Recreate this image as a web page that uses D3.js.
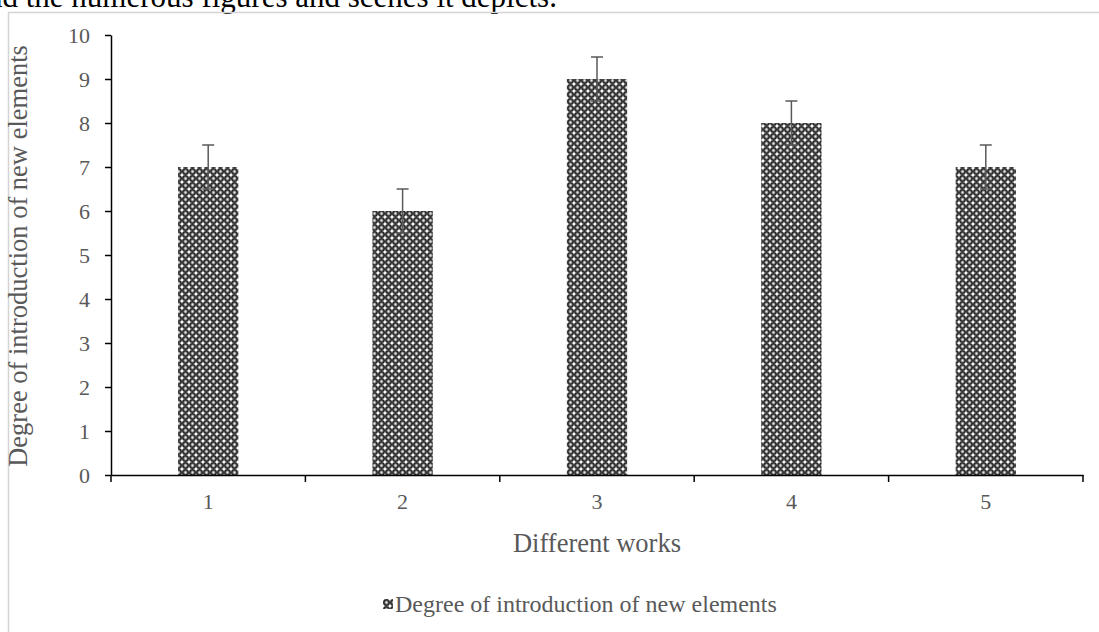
<!DOCTYPE html>
<html>
<head>
<meta charset="utf-8">
<script src="https://cdn.jsdelivr.net/npm/d3@7"></script>
<style>
  body { margin: 0; background: #fff; overflow: hidden; }
  svg { display: block; }
</style>
</head>
<body>
<svg id="chart"></svg>
<script>
let width = 1099, height = 632;

let works = ["1", "2", "3", "4", "5"];
let degree = [7, 6, 9, 8, 7];
let errors = [0.5, 0.5, 0.5, 0.5, 0.5];
let yTicks = [0, 1, 2, 3, 4, 5, 6, 7, 8, 9, 10];

let svg = d3.select("#chart")
    .attr("width", width)
    .attr("height", height);

let serif = "'Liberation Serif', 'Times New Roman', serif";

// fill pattern like the excel sphere pattern
let defs = svg.append("defs");
let pat = defs.append("pattern")
    .attr("id", "sphere")
    .attr("patternUnits", "userSpaceOnUse")
    .attr("width", 7)
    .attr("height", 7);
pat.append("rect").attr("width", 7).attr("height", 7).attr("fill", "#fff");
pat.append("circle")
    .attr("cx", 3.5).attr("cy", 3.5).attr("r", 2.7)
    .attr("fill", "#888")
    .attr("stroke", "#2a2a2a")
    .attr("stroke-width", 1.6);
pat.append("circle")
    .attr("cx", 3.5).attr("cy", 3.5).attr("r", 0.9)
    .attr("fill", "#eee");

// text from the page above the chart, cut off by the top
svg.append("text")
    .attr("x", -13)
    .attr("y", 6.5)
    .attr("font-family", serif)
    .attr("font-size", 31)
    .attr("fill", "#000")
    .text("nd the numerous figures and scenes it depicts.");

// chart frame
svg.append("rect")
    .attr("x", 8.5)
    .attr("y", 12.5)
    .attr("width", 1200)
    .attr("height", 700)
    .attr("fill", "none")
    .attr("stroke", "#d4d4d4")
    .attr("stroke-width", 1.5);

let margin = { left: 111, right: 1083, top: 35, bottom: 475 };

let x = d3.scaleBand()
    .domain(works)
    .range([margin.left, margin.right])
    .paddingInner(0.69)
    .paddingOuter(0.345);

let xEdge = d3.scaleLinear()
    .domain([0, works.length])
    .range([margin.left, margin.right]);

let y = d3.scaleLinear()
    .domain([0, 10])
    .range([margin.bottom, margin.top]);

// bars
svg.append("g")
    .selectAll("rect")
    .data(degree)
    .enter()
    .append("rect")
    .attr("x", (d, i) => x(works[i]))
    .attr("y", d => y(d))
    .attr("width", x.bandwidth())
    .attr("height", d => y(0) - y(d))
    .attr("fill", "url(#sphere)");

// error bars
let err = svg.append("g")
    .attr("stroke", "#595959")
    .attr("stroke-width", 1.5);
degree.forEach((d, i) => {
    let cx = x(works[i]) + x.bandwidth() / 2;
    let top = y(d + errors[i]), bot = y(d - errors[i]);
    err.append("line").attr("x1", cx).attr("x2", cx).attr("y1", top).attr("y2", bot);
    err.append("line").attr("x1", cx - 6).attr("x2", cx + 6).attr("y1", top).attr("y2", top);
    err.append("line").attr("x1", cx - 6).attr("x2", cx + 6).attr("y1", bot).attr("y2", bot);
});

// y axis
let yAxis = svg.append("g")
    .attr("transform", "translate(" + margin.left + ",0)")
    .call(d3.axisLeft(y).tickValues(yTicks).tickSize(6).tickSizeOuter(0).tickPadding(15));
yAxis.select(".domain").attr("stroke", "#000").attr("stroke-width", 1.5);
yAxis.selectAll(".tick line").attr("stroke", "#000").attr("stroke-width", 1.5);
yAxis.selectAll(".tick text")
    .attr("font-family", serif)
    .attr("font-size", 22)
    .attr("fill", "#595959");

// x axis
let xAxis = svg.append("g")
    .attr("transform", "translate(0," + margin.bottom + ")")
    .call(d3.axisBottom(x).tickSize(0).tickPadding(18));
xAxis.select(".domain").attr("stroke", "#000").attr("stroke-width", 1.5);
xAxis.selectAll(".tick text")
    .attr("font-family", serif)
    .attr("font-size", 22)
    .attr("fill", "#595959");
svg.append("g")
    .selectAll("line")
    .data(d3.range(works.length + 1))
    .enter()
    .append("line")
    .attr("x1", d => xEdge(d))
    .attr("x2", d => xEdge(d))
    .attr("y1", margin.bottom)
    .attr("y2", margin.bottom + 7)
    .attr("stroke", "#000")
    .attr("stroke-width", 1.5);

// axis titles
svg.append("text")
    .attr("transform", "translate(27," + ((margin.top + margin.bottom) / 2 + 1) + ") rotate(-90)")
    .attr("text-anchor", "middle")
    .attr("font-family", serif)
    .attr("font-size", 26.5)
    .attr("fill", "#595959")
    .text("Degree of introduction of new elements");

svg.append("text")
    .attr("x", (margin.left + margin.right) / 2)
    .attr("y", 552)
    .attr("text-anchor", "middle")
    .attr("font-family", serif)
    .attr("font-size", 26.5)
    .attr("fill", "#595959")
    .text("Different works");

// legend
let legend = svg.append("g").attr("transform", "translate(383,599)");
legend.append("rect")
    .attr("width", 10)
    .attr("height", 10)
    .attr("fill", "url(#sphere)");
legend.append("text")
    .attr("x", 12)
    .attr("y", 13)
    .attr("font-family", serif)
    .attr("font-size", 24)
    .attr("fill", "#595959")
    .text("Degree of introduction of new elements");
</script>
</body>
</html>
